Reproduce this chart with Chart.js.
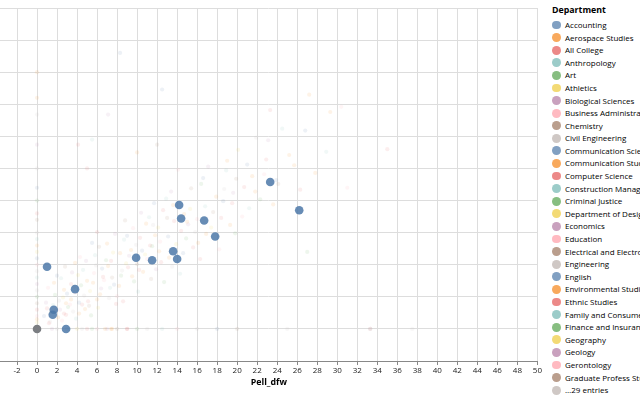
<!DOCTYPE html>
<html>
<head>
<meta charset="utf-8">
<title>Pell_dfw by Department</title>
<script src="https://cdn.jsdelivr.net/npm/chart.js@4.4.0/dist/chart.umd.min.js"></script>
<style>
  html, body { margin: 0; padding: 0; width: 640px; height: 400px; overflow: hidden; background: #fff; }
  #plot { position: absolute; left: -4.4px; top: 0; width: 549.4px; height: 400px; }
  #legend { position: absolute; left: 548px; top: 0; width: 200px; height: 400px;
            font-family: 'Open Sans', sans-serif; color: #000; white-space: nowrap; }
  #legend .title { position: absolute; left: 4px; top: 4px; font-size: 8.8px; font-weight: bold; line-height: 12px; }
  #legend .item { position: absolute; left: 0; height: 12px; line-height: 12px; font-size: 8px; }
  #legend .dot { position: absolute; left: 4.3px; top: 1.6px; width: 8.8px; height: 8.8px; border-radius: 50%; opacity: 0.7; }
  #legend .lbl { position: absolute; left: 17px; top: 0; }
</style>
</head>
<body>
<div id="plot"><canvas id="chart"></canvas></div>
<div id="legend"></div>
<script>
/* Pell_dfw scatter, Accounting highlighted */

Chart.defaults.font.family = "'Open Sans', sans-serif";
Chart.defaults.font.size = 8;
Chart.defaults.color = '#222';

const PALETTE = ['#4c78a8', '#f58518', '#e45756', '#72b7b2', '#54a24b',
                 '#eeca3b', '#b279a2', '#ff9da6', '#9d755d', '#bab0ac'];

const DEPARTMENTS = [
  'Accounting', 'Aerospace Studies', 'All College', 'Anthropology', 'Art', 'Athletics',
  'Biological Sciences', 'Business Administration', 'Chemistry', 'Civil Engineering',
  'Communication Sciences', 'Communication Studies', 'Computer Science',
  'Construction Management', 'Criminal Justice', 'Department of Design', 'Economics',
  'Education', 'Electrical and Electronic Engineering', 'Engineering', 'English',
  'Environmental Studies', 'Ethnic Studies', 'Family and Consumer Sciences',
  'Finance and Insurance', 'Geography', 'Geology', 'Gerontology', 'Graduate Profess Studies',
];
const MORE_ENTRIES = '…29 entries';

const X_TICKS = [-2, 0, 2, 4, 6, 8, 10, 12, 14, 16, 18, 20, 22, 24, 26, 28, 30,
                 32, 34, 36, 38, 40, 42, 44, 46, 48, 50];

// highlighted department
const accountingX = [0, 1.0, 1.67, 1.57, 2.9, 3.8, 9.9, 11.5, 13.6, 14.0, 14.2, 14.4, 16.7, 17.8, 23.3, 26.2];
const accountingY = [0, 9.7, 3.0, 2.2, 0, 6.2, 11.1, 10.7, 12.1, 10.9, 19.3, 17.2, 16.9, 14.4, 22.9, 18.5];

// faded departments, [Pell_dfw, y]
const aerospace = [[0,40],[2.1,1.8],[3.4,4.6],[4.8,3.1],[5.6,7.2],[6.3,5.4],[7.1,9.8],[8.2,6.7],
  [9.4,12.3],[10.6,8.9],[11.8,14.6],[13.2,11.1],[14.7,17.9],[16.1,13.4],[17.9,20.6],[19.3,16.2],
  [21.5,23.8],[23.6,19.4],[25.2,27.1],[27.8,24.3],[6.8,0],[7.4,0],[4.2,2.4],[2.7,6.1],[0,1.5]];
const allCollege = [[0,3],[1.2,0.9],[2.9,2.2],[3.8,5.7],[5.1,4.3],[6.6,8.1],[7.9,3.9],[9.1,9.6],
  [10.3,14.2],[12.4,10.4],[13.7,16.8],[15.6,12.7],[18.4,17.3],[20.7,22.1],[22.9,26.4],[26.3,21.7],
  [5.0,0],[9.0,0],[4.1,28.7]];
const anthropology = [[0,8],[0,14],[1.6,3.7],[2.4,7.9],[3.9,1.6],[4.6,9.2],[5.8,11.5],[7.3,6.4],
  [8.7,13.9],[10.1,5.8],[11.2,17.4],[12.9,20.3],[14.3,8.6],[16.8,19.1],[18.9,24.7],[21.2,18.8],
  [24.5,31.2],[28.9,27.6],[3.2,0],[12.5,0],[5.5,29.5]];
const art = [[0,5],[0,20],[1.8,5.3],[3.1,3.4],[4.4,6.8],[5.4,2.1],[6.9,10.7],[8.4,8.3],[9.7,7.4],
  [11.5,12.9],[12.7,7.3],[14.9,14.1],[16.4,22.6],[19.8,14.9],[22.3,20.2],[5.5,0],[10.0,0],[27,12]];
const athletics = [[0,1],[0,12],[1.4,2.6],[2.6,4.9],[4.1,8.4],[5.3,5.9],[6.1,3.3],[7.6,11.9],
  [8.9,10.2],[10.8,11.6],[12.1,15.8],[13.9,13.2],[15.3,18.7],[17.4,15.8],[20.1,27.9],[4.0,0]];
const biological = [[0,7],[0,28.7],[0.9,4.1],[2.3,3.0],[3.5,8.8],[4.9,10.6],[6.4,6.3],[7.8,14.8],
  [9.2,11.4],[10.4,18.1],[11.9,9.3],[13.4,21.4],[15.1,16.3],[17.1,25.3],[19.6,21.2],[23.1,29.4],
  [1.5,0],[7.0,0],[7.1,33.4]];
const business = [[0,2],[0,10],[1.1,6.4],[2.5,1.3],[3.3,3.8],[4.3,11.2],[5.7,8.7],[6.7,7.6],
  [8.0,5.1],[9.6,15.7],[11.0,10.9],[12.3,13.6],[14.1,24.8],[16.0,17.1],[18.2,12.4],[20.5,17.5],
  [22.7,24.1],[30.4,34.6],[6.0,0],[14.0,0],[33.3,0],[31,22]];
const chemistry = [[0,4],[0,17],[1.9,2.9],[2.8,9.7],[3.7,6.6],[5.2,3.6],[6.2,12.8],[7.5,8.0],
  [8.8,16.9],[10.0,10.1],[11.4,7.8],[13.0,17.3],[15.4,21.9],[17.6,18.2],[19.9,23.4],[24.1,22.6],
  [8.0,0],[20.0,0],[12,28.7]];
const civil = [[0,0],[0,6],[0,9],[0,15],[0,25],[0,33.4],[1.3,1.1],[2.2,4.4],[3.6,2.7],[4.7,5.2],
  [5.9,9.9],[7.2,4.8],[8.5,9.1],[9.9,13.1],[11.6,16.2],[13.5,9.7],[15.8,15.1],[18.7,21.8],
  [21.9,29.8],[2.0,0],[4.5,0],[11.0,0],[16.0,0],[25.0,0],[33.3,0],[33.3,0],[33.3,0],[37.5,0]];
const commSci = [[0,11],[0,22],[0.7,2.0],[2.0,8.3],[3.0,5.5],[4.2,4.1],[5.5,13.4],[6.5,9.4],
  [7.7,6.9],[9.0,14.5],[10.5,12.2],[11.7,19.6],[13.1,14.4],[14.6,11.8],[16.6,23.5],[18.6,19.9],
  [21.0,25.6],[23.9,23.2],[26.8,30.9],[12.5,37.3],[8.3,43],[3.0,0],[18.0,0]];
const commStud = [[0,13],[0,36],[1.7,7.2],[2.9,4.0],[3.8,10.3],[5.0,7.5],[6.0,4.6],[7.0,13.3],
  [8.3,11.8],[9.5,8.2],[10.9,16.4],[12.2,12.1],[13.6,19.3],[15.0,16.7],[16.9,14.8],[19.0,26.2],
  [21.8,21.4],[25.7,25.5],[29.3,33.8],[27.2,36.5],[7.5,0],[10,27.5]];
const computer = [[0,18],[1.0,3.2],[2.7,2.4],[3.4,7.0],[4.5,3.8],[6.0,15.1],[7.4,10.6],[8.6,4.3],
  [10.2,9.2],[11.3,13.0],[12.6,18.5],[14.4,15.3],[16.3,10.9],[19.5,19.6],[23.3,34.1],[5.0,25.0],
  [9.0,0],[35,28]];

const FADED = [
  ['Aerospace Studies', aerospace, 1], ['All College', allCollege, 2], ['Anthropology', anthropology, 3],
  ['Art', art, 4], ['Athletics', athletics, 5], ['Biological Sciences', biological, 6],
  ['Business Administration', business, 7], ['Chemistry', chemistry, 8], ['Civil Engineering', civil, 9],
  ['Communication Sciences', commSci, 0], ['Communication Studies', commStud, 1],
  ['Computer Science', computer, 2],
];

function rgba(hex, a) {
  const n = parseInt(hex.slice(1), 16);
  return `rgba(${n >> 16},${(n >> 8) & 255},${n & 255},${a})`;
}

// ── Legend ──────────────────────────────────────────────────────────────────

function renderLegend() {
  const box = document.getElementById('legend');
  let html = '<div class="title">Department</div>';
  const rows = DEPARTMENTS.concat([MORE_ENTRIES]);
  rows.forEach((name, i) => {
    const top = 25 + i * 12.59 - 6;
    html += `<div class="item" style="top:${top}px"><span class="dot" style="background:${PALETTE[i % 10]}"></span>` +
            `<span class="lbl">${name}</span></div>`;
  });
  box.innerHTML = html;
}

// ── Chart ───────────────────────────────────────────────────────────────────

function renderChart() {
  const datasets = [{
    label: 'Accounting',
    data: accountingX.map((x, i) => ({ x, y: accountingY[i] })),
    backgroundColor: accountingX.map((x, i) => (x === 0 && accountingY[i] === 0) ? '#7b7e82' : rgba('#4c78a8', 0.85)),
    borderWidth: 0,
    pointRadius: 4.3,
  }];
  for (const [name, pts, c] of FADED) {
    datasets.push({
      label: name,
      data: pts.map(p => ({ x: p[0], y: p[1] })),
      backgroundColor: rgba(PALETTE[c], 0.1),
      borderWidth: 0,
      pointRadius: 2.1,
    });
  }

  new Chart(document.getElementById('chart'), {
    type: 'scatter',
    data: { datasets },
    options: {
      responsive: true,
      maintainAspectRatio: false,
      animation: false,
      layout: { padding: { left: 0, right: 8, top: 8, bottom: 11.8 } },
      plugins: { legend: { display: false }, tooltip: { enabled: false } },
      scales: {
        x: {
          type: 'linear',
          min: -3.67,
          max: 50,
          afterBuildTicks: axis => { axis.ticks = X_TICKS.map(v => ({ value: v })); },
          grid: { color: '#ddd', lineWidth: 1, tickLength: 4, tickColor: '#888' },
          border: { color: '#888', width: 1 },
          ticks: { padding: 1, maxRotation: 0, autoSkip: false, color: '#222', font: { size: 8 } },
          title: { display: true, text: 'Pell_dfw', color: '#000', font: { size: 8.8, weight: 'bold' },
                   padding: { top: 1, bottom: 0 } },
        },
        y: {
          min: -5,
          max: 50,
          ticks: { display: false, stepSize: 5 },
          grid: { color: '#ddd', lineWidth: 1, drawTicks: false },
          border: { display: false },
        }
      }
    }
  });
}

renderLegend();
renderChart();
</script>
</body>
</html>
